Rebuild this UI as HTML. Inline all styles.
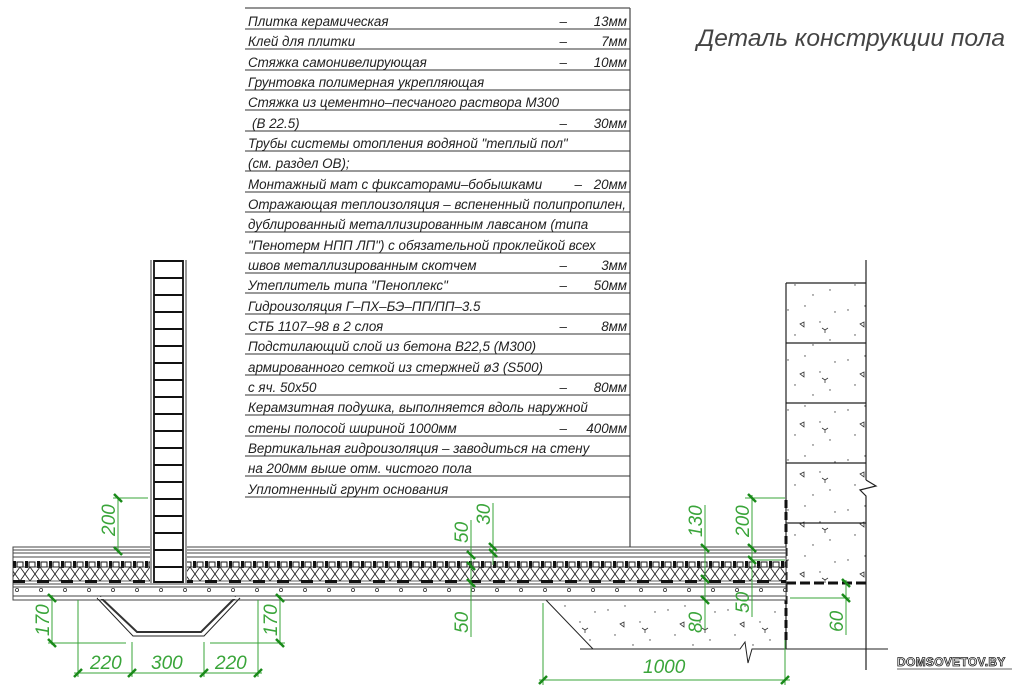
<!DOCTYPE html>
<html><head><meta charset="utf-8"><style>
html,body{margin:0;padding:0;background:#fff;}
svg{display:block;}
.t{font-family:"Liberation Sans","DejaVu Sans",sans-serif;font-style:italic;font-size:13.4px;fill:#222;}
.g{font-family:"Liberation Sans","DejaVu Sans",sans-serif;font-style:italic;font-size:19px;fill:#3aa53a;}
.dl{stroke:#3aa53a;stroke-width:1;fill:none;}
.tk{stroke:#1a8a1a;stroke-width:2.5;}
</style></head><body>
<svg width="1024" height="687" viewBox="0 0 1024 687" xmlns="http://www.w3.org/2000/svg">
<defs>
<pattern id="hatch" x="0" y="567" width="10" height="14" patternUnits="userSpaceOnUse">
<path d="M0 0 L10 14 M10 0 L0 14" stroke="#222" stroke-width="0.9"/>
</pattern>
<pattern id="boss" x="13" y="561" width="12" height="8" patternUnits="userSpaceOnUse">
<rect x="0" y="0" width="3" height="7" fill="#111"/>
<rect x="4" y="1" width="6" height="5" fill="none" stroke="#111" stroke-width="1"/>
</pattern>
<pattern id="dash" x="13" y="580" width="24" height="4" patternUnits="userSpaceOnUse">
<rect x="0" y="0" width="12" height="3" fill="#111"/>
</pattern>
<pattern id="dots" x="13" y="588" width="24" height="6" patternUnits="userSpaceOnUse">
<circle cx="4" cy="2" r="1.6" fill="none" stroke="#333" stroke-width="0.8"/>
</pattern>
<pattern id="conc" x="0" y="0" width="60" height="50" patternUnits="userSpaceOnUse">
<circle cx="8" cy="10" r="0.7" fill="#444"/><circle cx="25" cy="6" r="0.7" fill="#444"/>
<circle cx="40" cy="22" r="0.7" fill="#444"/><circle cx="15" cy="35" r="0.7" fill="#444"/>
<circle cx="50" cy="40" r="0.7" fill="#444"/><circle cx="33" cy="45" r="0.7" fill="#444"/>
<circle cx="55" cy="12" r="0.7" fill="#444"/>
<path d="M20 24 l4 -2 l0 5 z" fill="none" stroke="#333" stroke-width="0.8"/>
<path d="M45 30 l-3 -2 M45 30 l3 -2 M45 30 l0 3" stroke="#333" stroke-width="0.8"/>
</pattern>
</defs>

<!-- Table -->
<g stroke="#555" stroke-width="1.3">
<line x1="245" y1="8" x2="630" y2="8"/>
<line x1="630" y1="8" x2="630" y2="548"/>
</g>
<g stroke="#333" stroke-width="1">
<line x1="245" y1="29" x2="630" y2="29"/><line x1="245" y1="49" x2="630" y2="49"/>
<line x1="245" y1="70" x2="630" y2="70"/><line x1="245" y1="90" x2="630" y2="90"/>
<line x1="245" y1="110" x2="630" y2="110"/><line x1="245" y1="131" x2="630" y2="131"/>
<line x1="245" y1="151" x2="630" y2="151"/><line x1="245" y1="171" x2="630" y2="171"/>
<line x1="245" y1="192" x2="630" y2="192"/><line x1="245" y1="212" x2="630" y2="212"/>
<line x1="245" y1="232" x2="630" y2="232"/><line x1="245" y1="253" x2="630" y2="253"/>
<line x1="245" y1="273" x2="630" y2="273"/><line x1="245" y1="293" x2="630" y2="293"/>
<line x1="245" y1="314" x2="630" y2="314"/><line x1="245" y1="334" x2="630" y2="334"/>
<line x1="245" y1="354" x2="630" y2="354"/><line x1="245" y1="375" x2="630" y2="375"/>
<line x1="245" y1="395" x2="630" y2="395"/><line x1="245" y1="415" x2="630" y2="415"/>
<line x1="245" y1="436" x2="630" y2="436"/><line x1="245" y1="456" x2="630" y2="456"/>
<line x1="245" y1="476" x2="630" y2="476"/><line x1="245" y1="497" x2="630" y2="497"/>
</g>
<g class="t">
<text x="248" y="26">Плитка керамическая</text>
<text x="248" y="46">Клей для плитки</text>
<text x="248" y="67">Стяжка самонивелирующая</text>
<text x="248" y="87">Грунтовка полимерная укрепляющая</text>
<text x="248" y="107">Стяжка из цементно–песчаного раствора М300</text>
<text x="252" y="128">(В 22.5)</text>
<text x="248" y="148">Трубы системы отопления водяной "теплый пол"</text>
<text x="248" y="168">(см. раздел ОВ);</text>
<text x="248" y="189">Монтажный мат с фиксаторами–бобышками</text>
<text x="248" y="209" textLength="378" lengthAdjust="spacingAndGlyphs">Отражающая теплоизоляция – вспененный полипропилен,</text>
<text x="248" y="229">дублированный металлизированным лавсаном (типа</text>
<text x="248" y="250">"Пенотерм НПП ЛП") с обязательной проклейкой всех</text>
<text x="248" y="270">швов металлизированным скотчем</text>
<text x="248" y="290">Утеплитель типа "Пеноплекс"</text>
<text x="248" y="311">Гидроизоляция Г–ПХ–БЭ–ПП/ПП–3.5</text>
<text x="248" y="331">СТБ 1107–98 в 2 слоя</text>
<text x="248" y="351">Подстилающий слой из бетона В22,5 (М300)</text>
<text x="248" y="372">армированного сеткой из стержней ø3 (S500)</text>
<text x="248" y="392">с яч. 50x50</text>
<text x="248" y="412">Керамзитная подушка, выполняется вдоль наружной</text>
<text x="248" y="433">стены полосой шириной 1000мм</text>
<text x="248" y="453">Вертикальная гидроизоляция – заводиться на стену</text>
<text x="248" y="473">на 200мм выше отм. чистого пола</text>
<text x="248" y="494">Уплотненный грунт основания</text>
</g>
<g class="t" text-anchor="end">
<text x="567" y="26">–</text><text x="627" y="26">13мм</text>
<text x="567" y="46">–</text><text x="627" y="46">7мм</text>
<text x="567" y="67">–</text><text x="627" y="67">10мм</text>
<text x="567" y="128">–</text><text x="627" y="128">30мм</text>
<text x="582" y="189">–</text><text x="627" y="189">20мм</text>
<text x="567" y="270">–</text><text x="627" y="270">3мм</text>
<text x="567" y="290">–</text><text x="627" y="290">50мм</text>
<text x="567" y="331">–</text><text x="627" y="331">8мм</text>
<text x="567" y="392">–</text><text x="627" y="392">80мм</text>
<text x="567" y="433">–</text><text x="627" y="433">400мм</text>
</g>

<text x="697" y="46" textLength="308" lengthAdjust="spacingAndGlyphs" style="font-family:'Liberation Sans',sans-serif;font-style:italic;font-size:24px;fill:#444">Деталь конструкции пола</text>

<!-- Right wall -->
<rect x="786" y="283" width="80" height="300" fill="url(#conc)"/>
<g stroke="#222" stroke-width="1.2" fill="none">
<line x1="866" y1="260" x2="866" y2="480"/>
<path d="M866 480 L876 486 L860 490 L866 496 L866 670"/>
<line x1="786" y1="283" x2="866" y2="283"/>
<line x1="786" y1="343" x2="866" y2="343"/>
<line x1="786" y1="403" x2="866" y2="403"/>
<line x1="786" y1="463" x2="866" y2="463"/>
<line x1="786" y1="523" x2="866" y2="523"/>
<line x1="786" y1="283" x2="786" y2="649"/>
</g>
<line x1="786" y1="500" x2="786" y2="640" stroke="#111" stroke-width="3" stroke-dasharray="8,4"/>
<line x1="786" y1="583" x2="866" y2="583" stroke="#111" stroke-width="3" stroke-dasharray="10,4"/>

<!-- keramzit pad -->
<path d="M545 599 L786 599 L786 649 L593 649 Z" fill="url(#conc)"/>
<g stroke="#222" stroke-width="1" fill="none">
<line x1="545" y1="599" x2="593" y2="649"/>
<path d="M580 649 L740 649 L745 642 L748 663 L752 649 L888 649"/>
</g>

<!-- floor layers -->
<rect x="13" y="547" width="773" height="53" fill="#fff" stroke="#444" stroke-width="1"/>
<g stroke="#444" stroke-width="1">
<line x1="13" y1="550" x2="786" y2="550"/>
<line x1="13" y1="553" x2="786" y2="553"/>
<line x1="13" y1="557" x2="786" y2="557"/>
<line x1="13" y1="584" x2="786" y2="584"/>
<line x1="13" y1="587" x2="786" y2="587"/>
<line x1="13" y1="596" x2="786" y2="596"/>
</g>
<rect x="13" y="561" width="773" height="7" fill="url(#boss)"/>
<rect x="13" y="567" width="773" height="14" fill="url(#hatch)"/>
<line x1="13" y1="567" x2="786" y2="567" stroke="#333" stroke-width="0.8"/>
<line x1="13" y1="581" x2="786" y2="581" stroke="#333" stroke-width="0.8"/>
<rect x="13" y="580" width="773" height="3" fill="url(#dash)"/>
<rect x="13" y="588" width="773" height="5" fill="url(#dots)"/>

<!-- trench -->
<path d="M97 598 L133 636 L204 636 L240 598" fill="none" stroke="#222" stroke-width="1"/>
<path d="M100 597 L137 632 L201 632 L236 597" fill="none" stroke="#333" stroke-width="2"/>
<rect x="98" y="597" width="140" height="2" fill="#fff"/>

<!-- brick column -->
<rect x="150" y="258" width="37" height="325" fill="#fff"/>
<line x1="151" y1="260" x2="151" y2="583" stroke="#999" stroke-width="2"/>
<line x1="186" y1="260" x2="186" y2="583" stroke="#999" stroke-width="2"/>
<g stroke="#111" stroke-width="1.8" fill="none">
<line x1="154" y1="260" x2="154" y2="583"/><line x1="183" y1="260" x2="183" y2="583"/>
</g>
<g stroke="#111" stroke-width="2">
<line x1="154" y1="261" x2="183" y2="261"/><line x1="154" y1="278" x2="183" y2="278"/>
<line x1="154" y1="295" x2="183" y2="295"/><line x1="154" y1="312" x2="183" y2="312"/>
<line x1="154" y1="329" x2="183" y2="329"/><line x1="154" y1="346" x2="183" y2="346"/>
<line x1="154" y1="363" x2="183" y2="363"/><line x1="154" y1="380" x2="183" y2="380"/>
<line x1="154" y1="397" x2="183" y2="397"/><line x1="154" y1="414" x2="183" y2="414"/>
<line x1="154" y1="431" x2="183" y2="431"/><line x1="154" y1="448" x2="183" y2="448"/>
<line x1="154" y1="465" x2="183" y2="465"/><line x1="154" y1="482" x2="183" y2="482"/>
<line x1="154" y1="499" x2="183" y2="499"/><line x1="154" y1="516" x2="183" y2="516"/>
<line x1="154" y1="533" x2="183" y2="533"/><line x1="154" y1="550" x2="183" y2="550"/>
<line x1="154" y1="567" x2="183" y2="567"/><line x1="154" y1="582" x2="183" y2="582"/>
</g>

<!-- dimensions -->
<g class="dl">
<line x1="118" y1="498" x2="118" y2="551"/><line x1="113" y1="498" x2="148" y2="498"/>
<line x1="52" y1="595" x2="52" y2="645"/><line x1="48" y1="643" x2="126" y2="643"/>
<line x1="280" y1="595" x2="280" y2="645"/><line x1="210" y1="643" x2="285" y2="643"/>
<line x1="74" y1="673" x2="262" y2="673"/>
<line x1="78" y1="600" x2="78" y2="677"/><line x1="132" y1="642" x2="132" y2="677"/>
<line x1="204" y1="642" x2="204" y2="677"/><line x1="258" y1="600" x2="258" y2="677"/>
<line x1="471" y1="520" x2="471" y2="637"/>
<line x1="493" y1="503" x2="493" y2="565"/>
<line x1="705" y1="505" x2="705" y2="630"/>
<line x1="752" y1="495" x2="752" y2="617"/><line x1="745" y1="498" x2="785" y2="498"/>
<line x1="752" y1="560" x2="785" y2="560"/>
<line x1="846" y1="580" x2="846" y2="635"/><line x1="790" y1="598" x2="850" y2="598"/>
<line x1="539" y1="680" x2="790" y2="680"/>
<line x1="543" y1="603" x2="543" y2="685"/><line x1="785" y1="640" x2="785" y2="685"/>
</g>
<g class="tk">
<line x1="114" y1="494" x2="122" y2="502"/><line x1="114" y1="547" x2="122" y2="555"/>
<line x1="48" y1="594" x2="56" y2="602"/><line x1="48" y1="639" x2="56" y2="647"/>
<line x1="276" y1="594" x2="284" y2="602"/><line x1="276" y1="639" x2="284" y2="647"/>
<line x1="74" y1="677" x2="82" y2="669"/><line x1="128" y1="677" x2="136" y2="669"/>
<line x1="200" y1="677" x2="208" y2="669"/><line x1="254" y1="677" x2="262" y2="669"/>
<line x1="467" y1="551" x2="475" y2="559"/><line x1="467" y1="562" x2="475" y2="570"/>
<line x1="467" y1="579" x2="475" y2="587"/>
<line x1="489" y1="543" x2="497" y2="551"/><line x1="489" y1="549" x2="497" y2="557"/>
<line x1="701" y1="544" x2="709" y2="552"/><line x1="701" y1="575" x2="709" y2="583"/>
<line x1="701" y1="596" x2="709" y2="604"/>
<line x1="748" y1="494" x2="756" y2="502"/><line x1="748" y1="544" x2="756" y2="552"/>
<line x1="748" y1="556" x2="756" y2="564"/>
<line x1="842" y1="579" x2="850" y2="587"/><line x1="842" y1="594" x2="850" y2="602"/>
<line x1="539" y1="684" x2="547" y2="676"/><line x1="781" y1="684" x2="789" y2="676"/>
</g>
<g class="g">
<text transform="translate(115,536) rotate(-90)">200</text>
<text transform="translate(49,636) rotate(-90)">170</text>
<text transform="translate(277,636) rotate(-90)">170</text>
<text x="90" y="669">220</text>
<text x="151" y="669">300</text>
<text x="215" y="669">220</text>
<text transform="translate(468,543) rotate(-90)">50</text>
<text transform="translate(468,633) rotate(-90)">50</text>
<text transform="translate(490,525) rotate(-90)">30</text>
<text transform="translate(702,537) rotate(-90)">130</text>
<text transform="translate(702,633) rotate(-90)">80</text>
<text transform="translate(749,537) rotate(-90)">200</text>
<text transform="translate(749,613) rotate(-90)">50</text>
<text transform="translate(843,632) rotate(-90)">60</text>
<text x="643" y="673">1000</text>
</g>

<text x="897" y="666" style="font-family:'Liberation Sans',sans-serif;font-weight:bold;font-size:12px;fill:#fff;stroke:#222;stroke-width:0.8;letter-spacing:0.3px">DOMSOVETOV.BY</text>
<line x1="897" y1="669" x2="1012" y2="669" stroke="#666" stroke-width="1"/>
</svg>
</body></html>
